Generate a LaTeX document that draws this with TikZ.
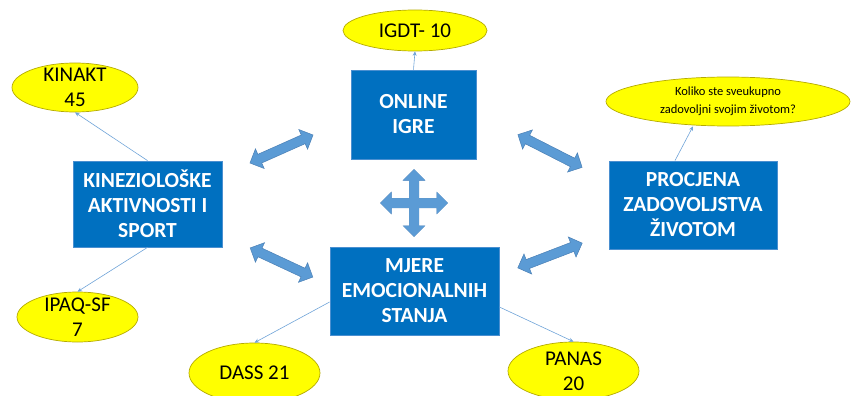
\documentclass[tikz,border=0pt]{standalone}
\usepackage{fontspec}
\setmainfont{Carlito}
\usetikzlibrary{shapes.geometric,shapes.arrows,arrows.meta}

\definecolor{boxblue}{HTML}{0070C0}
\definecolor{boxedge}{HTML}{4A8FD0}
\definecolor{arrowblue}{HTML}{5B9BD5}
\definecolor{arrowedge}{HTML}{4A7FB5}
\definecolor{ellyellow}{HTML}{FFFF00}
\definecolor{elledge}{HTML}{B4AA00}
\definecolor{linkblue}{HTML}{6FA3D8}

\tikzset{
  area/.style={rectangle, draw=boxedge, fill=boxblue, text=white, line width=0.8pt,
    font=\bfseries\fontsize{21.5}{25}\selectfont, align=center, inner sep=0pt},
  measure/.style={ellipse, draw=elledge, fill=ellyellow, line width=0.7pt, inner sep=0pt},
  mtext/.style={align=center, font=\fontsize{21}{25}\selectfont},
  link/.style={draw=linkblue, line width=0.6pt, -{Stealth[length=4.5pt,width=4pt]}},
  bigarrow/.style={double arrow, draw=arrowedge, fill=arrowblue, line width=0.5pt,
    inner sep=4.5pt, double arrow head extend=6pt, minimum height=#1},
  bigfill/.style={bigarrow=#1, draw=none}
}

\begin{document}
\begin{tikzpicture}[x=1pt,y=-1pt]
\useasboundingbox (0,0) rectangle (852,396);
\clip (0,0) rectangle (852,396);

% main areas
\node[area, minimum width=149pt, minimum height=86pt] (kin) at (147.5,204) {KINEZIOLOŠKE\\AKTIVNOSTI I\\SPORT};
\node[area, minimum width=125pt, minimum height=89pt] (online) at (413.5,114.5) {ONLINE\\IGRE};
\node[area, minimum width=168pt, minimum height=88pt] (zad) at (693,205) {PROCJENA\\ZADOVOLJSTVA\\ŽIVOTOM};
\node[area, minimum width=169pt, minimum height=88pt] (emo) at (414.5,291) {MJERE\\EMOCIONALNIH\\STANJA};

% instruments
\node[measure, minimum width=126pt, minimum height=49pt, label={[mtext]center:KINAKT\\45}] (kinakt) at (75,87.5) {};
\node[measure, minimum width=121pt, minimum height=50pt, label={[mtext]center:IPAQ-SF\\7}] (ipaq) at (77.5,317) {};
\node[measure, minimum width=144pt, minimum height=41pt, label={[mtext]center:IGDT- 10}] (igdt) at (415,30.5) {};
\node[measure, minimum width=244pt, minimum height=49pt,
  label={[align=center, font=\fontsize{12.5}{18}\selectfont]center:Koliko ste sveukupno\\zadovoljni svojim životom?}] (koliko) at (728,101.5) {};
\node[measure, minimum width=131pt, minimum height=60pt, label={[mtext]center:DASS 21}] (dass) at (254.5,373) {};
\node[measure, minimum width=131pt, minimum height=58pt, label={[mtext]center:PANAS\\20}] (panas) at (573.5,371) {};

% thin links
\draw[link] (kin.north) -- (kinakt.south);
\draw[link] (kin.south) -- (ipaq.north);
\draw[link] (online.north) -- (igdt.south);
\draw[link] ([xshift=-18pt]zad.north) -- ([xshift=-35pt]koliko.south);
\draw[link] ([yshift=-11pt]emo.west) -- (dass.north);
\draw[link] ([yshift=-16pt]emo.east) -- (panas.north);

% block arrows
\node[bigarrow=69pt, rotate=24] (a1) at (281.5,149) {};
\node[bigarrow=69pt, rotate=-25] (a2) at (281.5,262.5) {};
\node[bigarrow=72pt, rotate=-27] (a3) at (550,151) {};
\node[bigarrow=69pt, rotate=21] (a4) at (550,255.5) {};
\node[bigarrow=67pt] (cx) at (414,203) {};
\node[bigarrow=67pt, rotate=90] (cy) at (414,203) {};
\node[bigfill=67pt] at (cx) {};
\node[bigfill=67pt, rotate=90] at (cy) {};
\end{tikzpicture}
\end{document}
